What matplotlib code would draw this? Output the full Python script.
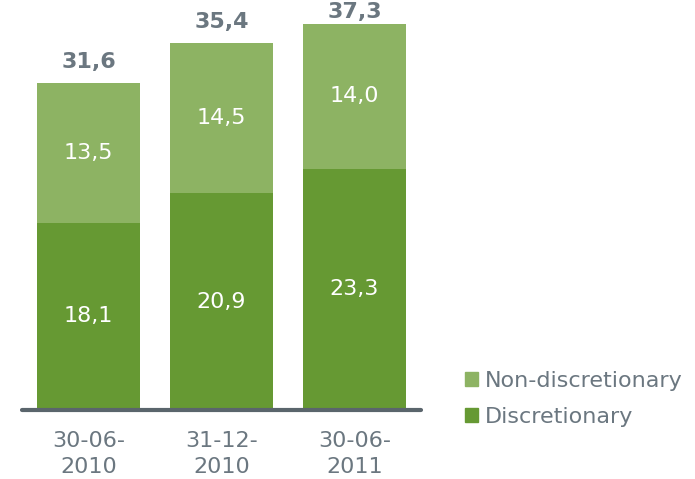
import numpy as np
import matplotlib.pyplot as plt
from matplotlib.patches import Patch

dates = ['30-06-\n2010', '31-12-\n2010', '30-06-\n2011']
discretionary = [18.1, 20.9, 23.3]
non_discretionary = [13.5, 14.5, 14.0]
totals = [31.6, 35.4, 37.3]

light = '#8db363'
dark = '#669933'
grey = '#6b7780'

fig = plt.figure(figsize=(6.95, 4.79), dpi=100)
ax = fig.add_axes([22/695, 69/479, 399/695, 404/479])

x = np.arange(len(dates))
w = 0.775
b1 = ax.bar(x, discretionary, w, color=dark)
b2 = ax.bar(x, non_discretionary, w, bottom=discretionary, color=light)

# last total sits closer to its bar so it stays inside the figure
total_offsets = [15, 15, 8]

for i in range(len(x)):
    ax.text(x[i], discretionary[i] / 2, f'{discretionary[i]:.1f}'.replace('.', ','),
            ha='center', va='center', color='white', fontsize=16)
    ax.text(x[i], discretionary[i] + non_discretionary[i] / 2,
            f'{non_discretionary[i]:.1f}'.replace('.', ','),
            ha='center', va='center', color='white', fontsize=16)
    ax.annotate(f'{totals[i]:.1f}'.replace('.', ','), xy=(x[i], totals[i]),
                xytext=(0, total_offsets[i]), textcoords='offset points',
                ha='center', va='center', color=grey, fontsize=16,
                fontweight='bold', annotation_clip=False)

ax.set_xlim(-0.5, 2.5)
ax.set_ylim(0, 39)
ax.set_xticks(x)
ax.set_xticklabels(dates, color=grey, fontsize=16, linespacing=1.4)
ax.tick_params(axis='x', length=0, pad=15)
ax.set_yticks([])
for s in ['top', 'right', 'left']:
    ax.spines[s].set_visible(False)
ax.spines['bottom'].set_color('#5a656c')
ax.spines['bottom'].set_linewidth(3)
ax.spines['bottom'].set_capstyle('round')

handles = [Patch(color=light, label='Non-discretionary'),
           Patch(color=dark, label='Discretionary')]
fig.legend(handles=handles, loc='upper left', bbox_to_anchor=(445/695, 1 - 351/479),
           frameon=False, fontsize=16, labelcolor=grey, handlelength=0.6,
           handleheight=0.6, handletextpad=0.3, labelspacing=0.7)

fig.savefig('out.png', dpi=100)
